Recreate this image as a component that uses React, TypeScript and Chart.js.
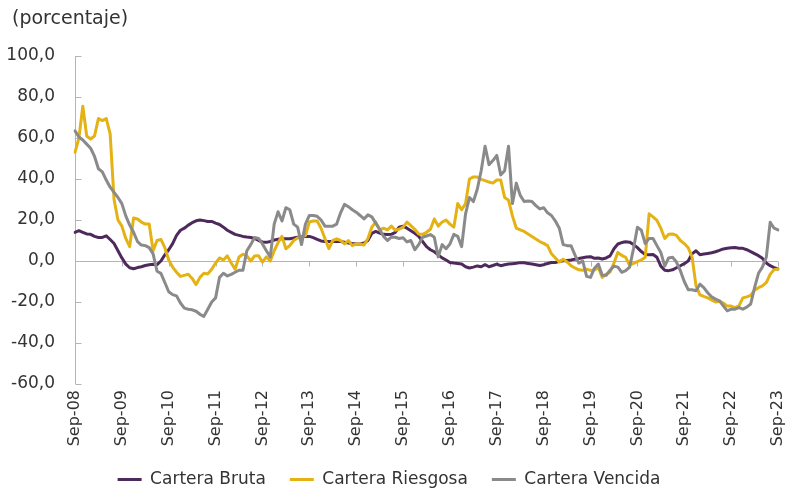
import React, { useEffect, useRef } from 'react';
import { Chart, registerables } from 'chart.js';

Chart.register(...registerables);

const MONTHS = ['Sep', 'Oct', 'Nov', 'Dic', 'Ene', 'Feb', 'Mar', 'Abr', 'May', 'Jun', 'Jul', 'Ago'];
const FIRST_YEAR = 8; // Sep-08
const N_MONTHS = 181; // Sep-08 .. Sep-23

const CATEGORIES: string[] = Array.from({ length: N_MONTHS }, (_, i) => {
  const yr = FIRST_YEAR + Math.floor((i + 8) / 12);
  return `${MONTHS[i % 12]}-${String(yr).padStart(2, '0')}`;
});

const SERIES_NAMES = ['Cartera Bruta', 'Cartera Riesgosa', 'Cartera Vencida'];

// one row per year (Sep..Aug)
const CARTERA_BRUTA = [
  14, 14.8, 14, 13.2, 13, 12, 11.5, 11.5, 12.3, 10.5, 8.5, 5,
  1.5, -1.5, -3.3, -3.8, -3.2, -2.8, -2.2, -1.8, -1.6, -1.8, 0, 3,
  5.5, 8.5, 12.5, 15, 16, 17.5, 18.7, 19.6, 20, 19.7, 19.3, 19.3,
  18.5, 17.8, 16.5, 15, 14, 13, 12.5, 12, 11.7, 11.5, 11, 10,
  9.3, 9.1, 9.5, 10.2, 10.6, 10.8, 10.8, 10.9, 11.2, 11.6, 12, 12,
  12, 11.4, 10.6, 9.8, 9.5, 9.5, 9.5, 9.5, 9.5, 9.2, 8.8, 8.5,
  8.3, 8.3, 8.8, 10, 13.5, 14.4, 13.6, 13, 12.9, 13, 14, 16.5,
  17, 16, 14.8, 13.5, 12, 9.5, 7, 5.5, 4.5, 3, 1.5, 0.5,
  -0.7, -1, -1.2, -1.5, -2.8, -3.4, -3, -2.4, -2.8, -1.8, -2.8, -2.2,
  -1.5, -2.3, -1.8, -1.5, -1.3, -1.1, -0.8, -0.9, -1.2, -1.5, -1.8, -2.2,
  -1.8, -1.2, -0.7, -0.7, -0.2, 0.1, 0.3, 0.5, 0.9, 1.2, 1.6, 1.9,
  2.1, 1.3, 1.5, 1, 1.5, 2.5, 6, 8.3, 9, 9.4, 9.2, 8,
  6.5, 4.6, 3.2, 3, 3.2, 1.8, -2.5, -4.5, -4.7, -4.3, -3.3, -2.3,
  -1.3, 0, 3.5, 5, 3.1, 3.4, 3.7, 4, 4.5, 5.2, 5.9, 6.2,
  6.5, 6.6, 6.2, 6.2, 5.5, 4.6, 3.6, 2.6, 1.3, -1, -2.3, -3.2,
  -3.9,
];

const CARTERA_RIESGOSA = [
  53, 60, 75.5, 61, 59.5, 61, 69.5, 68.5, 69.5, 62, 30, 20,
  17, 11, 7, 21, 20.5, 19, 18, 18, 5, 10, 10.5, 6.5,
  0.5, -3, -5.5, -7.5, -7, -6.5, -8.5, -11.5, -8, -6, -6.3, -4,
  -1, 1.5, 0.5, 2.5, -1, -4, 2, 3.3, 2.5, 0, 2.5, 2.6,
  -0.6, 2, 0, 5, 9, 12, 6, 7.5, 10, 11.2, 11.8, 12.4,
  19, 19.5, 19.5, 16, 11, 6, 10, 10.8, 10, 8.3, 10, 7.5,
  8.3, 8.3, 7.8, 11, 16.5, 19, 15.2, 16, 15.2, 17, 15, 15.5,
  16.5, 19, 17.3, 15.5, 13.2, 13, 14, 15.5, 20.5, 17, 19, 20,
  18, 16.5, 28, 25, 28, 40, 41, 41, 39.8, 39.2, 38.5, 38,
  39.5, 39.5, 31, 29.7, 22, 16, 15.2, 14.4, 13.2, 12, 10.7, 9.5,
  8.6, 7.5, 3.5, 1.5, -0.5, 0.8, -0.5, -2.3, -3.4, -4.3, -4.5, -4,
  -4.6, -4.4, -3.3, -8, -6.5, -5.3, -1, 4.2, 2.7, 1.8, -2, -1.2,
  -0.3, 0.5, 1.8, 23, 21.5, 19.8, 16, 11, 13, 13.2, 12.5, 10,
  8.5, 6.5, 2, -12, -16.5, -17.3, -18, -19, -20, -19.6, -20.5, -22,
  -22, -22.7, -21.9, -18, -17.5, -16.8, -14.2, -13, -12.1, -10.5, -6.5, -4.2,
  -3.9,
];

const CARTERA_VENCIDA = [
  63.5, 60.5, 59, 57, 55, 51, 45, 43.5, 39.5, 36, 33.5, 31,
  28, 22, 17.5, 14, 9.5, 7.8, 7.5, 6.5, 3.5, -5, -6, -10.5,
  -15, -16.4, -17, -20.5, -23, -23.5, -23.8, -24.5, -26, -27, -23.5, -20,
  -18, -8, -6, -7.3, -6.5, -5.5, -4.5, -4.5, 5, 8, 11.5, 11,
  8.3, 5, 2, 18, 24, 19.5, 26, 25, 18, 16.5, 8, 18,
  22.2, 22.2, 21.8, 20, 17, 17, 17, 18, 23.5, 27.6, 26.5, 25,
  23.8, 22.2, 20.5, 22.5, 21.5, 18.5, 15.5, 12, 10, 11.6, 11.6, 11,
  11.3, 9.3, 10, 5.5, 8, 11.6, 12.2, 12.9, 11.6, 2, 8, 6,
  8.3, 13, 12, 7, 23, 31, 29, 35, 44, 56, 47, 49,
  51.5, 42, 44, 56, 28, 38, 32, 29, 29.3, 29, 27, 25.4,
  26, 23.5, 22.2, 19.5, 16, 8, 7.5, 7.5, 3, -1, 0, -7.5,
  -8, -3.5, -1.5, -7, -7, -4.5, -2.5, -3, -5.5, -4.7, -3, 6,
  16.5, 15, 8.5, 11, 11, 7.5, 4.2, -2.5, 1.5, 1.8, -0.5, -4.7,
  -10, -14, -14, -14.5, -11.3, -13, -15.5, -17.5, -18.6, -19.4, -21.9, -24.3,
  -23.5, -23.5, -22.7, -23.5, -22.5, -21, -13, -6, -3, 1.8, 18.9, 16,
  15.2,
];

const Y_MIN = -60;
const Y_MAX = 100;
const Y_STEP = 20;
const TITLE = '(porcentaje)';

const COLORS = ['#4e2a5c', '#e5b214', '#8a8a8a'];
const FONT = "'DejaVu Sans', 'Verdana', sans-serif";
const TEXT_COLOR = '#333333';
const AXIS_COLOR = '#b4b4b4';

const decorPlugin = {
  id: 'decor',
  beforeDatasetsDraw(chart: any) {
    const { ctx, chartArea: a, scales } = chart;
    const ys = scales.y;
    const xs = scales.x;
    ctx.save();
    ctx.strokeStyle = AXIS_COLOR;
    ctx.lineWidth = 1;
    const ax = Math.round(a.left) + 0.5;
    ctx.beginPath();
    ctx.moveTo(ax, a.top);
    ctx.lineTo(ax, a.bottom);
    ctx.stroke();
    ys.ticks.forEach((t: any) => {
      const py = Math.round(ys.getPixelForValue(t.value)) + 0.5;
      ctx.beginPath();
      ctx.moveTo(ax, py);
      ctx.lineTo(ax + 6, py);
      ctx.stroke();
    });
    const zy = Math.round(ys.getPixelForValue(0)) + 0.5;
    ctx.beginPath();
    ctx.moveTo(a.left, zy);
    ctx.lineTo(a.right, zy);
    ctx.stroke();
    for (let i = 0; i < CATEGORIES.length; i += 12) {
      const px = Math.round(xs.getPixelForValue(i)) + 0.5;
      ctx.beginPath();
      ctx.moveTo(px, zy);
      ctx.lineTo(px, zy + 5);
      ctx.stroke();
    }
    ctx.fillStyle = TEXT_COLOR;
    ctx.font = `19px ${FONT}`;
    ctx.textBaseline = 'middle';
    ctx.textAlign = 'left';
    ctx.fillText(TITLE, 12, 19);
    ctx.restore();
  },
};

export default function App() {
  const ref = useRef<HTMLCanvasElement | null>(null);

  useEffect(() => {
    if (!ref.current) return;
    const series = [CARTERA_BRUTA, CARTERA_RIESGOSA, CARTERA_VENCIDA];
    const chart = new Chart(ref.current, {
      type: 'line',
      data: {
        labels: CATEGORIES,
        datasets: series.map((d, k) => ({
          label: SERIES_NAMES[k],
          data: d,
          borderColor: COLORS[k],
          backgroundColor: COLORS[k],
          borderWidth: 3,
          borderJoinStyle: 'round' as const,
          borderCapStyle: 'round' as const,
          pointRadius: 0,
          tension: 0,
          fill: false,
          order: 2 - k,
        })),
      },
      options: {
        responsive: false,
        animation: false,
        devicePixelRatio: 1,
        layout: { padding: { top: 56, right: 8, bottom: -9, left: 0 } },
        font: { family: FONT },
        plugins: {
          title: { display: false },
          tooltip: { enabled: false },
          legend: {
            display: true,
            position: 'bottom',
            labels: {
              font: { family: FONT, size: 17 },
              color: TEXT_COLOR,
              boxWidth: 24,
              boxHeight: 3,
              padding: 24,
              sort: (a: any, b: any) => a.datasetIndex - b.datasetIndex,
              generateLabels: (c: any) =>
                Chart.defaults.plugins.legend.labels
                  .generateLabels(c)
                  .map((l: any) => ({ ...l, lineWidth: 0, fillStyle: COLORS[l.datasetIndex] })),
            },
          },
        },
        scales: {
          x: {
            type: 'category',
            grid: { display: false, drawTicks: false },
            border: { display: false },
            afterFit: (s: any) => {
              s.height = 63;
              s.paddingLeft = 0;
              s.paddingRight = 0;
            },
            ticks: {
              autoSkip: false,
              maxRotation: 90,
              minRotation: 90,
              padding: 6,
              color: TEXT_COLOR,
              font: { family: FONT, size: 16 },
              callback: (_v: any, i: number) => (i % 12 === 0 ? CATEGORIES[i] : null),
            },
          },
          y: {
            min: Y_MIN,
            max: Y_MAX,
            grid: { display: false, drawTicks: false },
            border: { display: false },
            afterFit: (s: any) => { s.width = 75; },
            ticks: {
              stepSize: Y_STEP,
              padding: 20,
              color: TEXT_COLOR,
              font: { family: FONT, size: 17 },
              callback: (v: any) => Number(v).toFixed(1).replace('.', ','),
            },
          },
        },
      },
      plugins: [decorPlugin],
    });
    return () => chart.destroy();
  }, []);

  return (
    <div style={{ position: 'absolute', left: 0, top: 0, width: 786, height: 489, background: '#ffffff' }}>
      <canvas ref={ref} width={786} height={489} style={{ display: 'block' }} />
    </div>
  );
}
